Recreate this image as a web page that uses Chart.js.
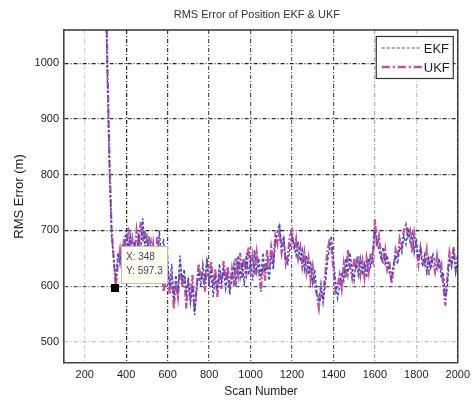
<!DOCTYPE html>
<html>
<head>
<meta charset="utf-8">
<script src="https://cdn.jsdelivr.net/npm/chart.js@4"></script>
<style>
html, body { margin: 0; padding: 0; background: #fff; }
</style>
</head>
<body>
<canvas id="rms-chart" width="475" height="401"></canvas>
<script>
var scans = [300,310,320,330,340,350,360,370,380,390,
    400,410,420,430,440,450,460,470,480,490,
    500,510,520,530,540,550,560,570,580,590,
    600,610,620,630,640,650,660,670,680,690,
    700,710,720,730,740,750,760,770,780,790,
    800,810,820,830,840,850,860,870,880,890,
    900,910,920,930,940,950,960,970,980,990,
    1000,1010,1020,1030,1040,1050,1060,1070,1080,1090,
    1100,1110,1120,1130,1140,1150,1160,1170,1180,1190,
    1200,1210,1220,1230,1240,1250,1260,1270,1280,1290,
    1300,1310,1320,1330,1340,1350,1360,1370,1380,1390,
    1400,1410,1420,1430,1440,1450,1460,1470,1480,1490,
    1500,1510,1520,1530,1540,1550,1560,1570,1580,1590,
    1600,1610,1620,1630,1640,1650,1660,1670,1680,1690,
    1700,1710,1720,1730,1740,1750,1760,1770,1780,1790,
    1800,1810,1820,1830,1840,1850,1860,1870,1880,1890,
    1900,1910,1920,1930,1940,1950,1960,1970,1980,1990,
    2000];
var ekf = [1150,960,800,690,645,610,660,640,675,650,
    700,665,690,650,680,640,695,660,722,670,
    690,655,680,640,670,620,700,650,685,630,
    650,600,640,575,620,590,655,610,630,590,
    615,570,600,548,590,625,600,640,610,650,
    600,630,580,615,595,640,610,630,595,620,
    585,615,640,600,655,615,640,600,660,620,
    645,610,665,625,650,615,660,625,640,610,
    655,630,680,700,712,670,690,650,640,665,
    690,675,655,680,645,665,630,655,620,645,
    605,630,590,575,605,570,600,640,665,690,
    650,610,578,600,625,610,650,620,660,630,
    610,645,620,650,625,640,615,650,635,660,
    700,680,665,650,670,640,655,625,615,640,
    655,640,670,660,690,675,705,680,695,660,
    685,650,665,635,655,625,650,630,660,640,
    630,650,615,625,580,600,650,635,660,625,
    645];
var ukf = [1200,990,820,700,650,598,640,665,630,690,
    660,705,655,685,660,700,670,715,680,700,
    660,690,645,675,630,690,660,640,590,610,
    630,585,620,560,605,580,640,600,620,560,
    605,580,620,555,600,640,610,625,590,640,
    615,645,600,630,580,625,595,645,610,635,
    600,630,600,650,620,660,615,650,625,670,
    630,655,620,660,630,590,640,610,665,630,
    670,645,690,675,700,660,680,640,655,690,
    700,665,685,650,670,635,660,625,650,610,
    635,600,585,560,590,580,620,660,680,670,
    630,590,600,620,595,640,615,665,635,615,
    650,630,655,620,645,615,650,625,660,645,
    720,670,690,655,640,665,630,645,605,630,
    665,650,685,670,700,710,690,700,660,695,
    670,640,670,650,640,665,620,655,640,625,
    655,630,640,600,565,620,660,640,670,630,
    655];
var xTicks = [200,400,600,800,1000,1200,1400,1600,1800,2000];
var yTicks = [500,600,700,800,900,1000];
var tipScan = 348;
var tipValue = 597.3;

// grid shades as they appear in the picture
var xGridShade = {200:'#d0d0d0',400:'#222222',600:'#3a3a3a',800:'#555555',1000:'#555555',
    1200:'#666666',1400:'#555555',1600:'#aaaaaa',1800:'#c4c4c4',2000:'#222222'};
var yGridShade = {500:'#c4c4c4',600:'#555555',700:'#222222',800:'#333333',900:'#333333',1000:'#222222'};

var textColor = '#1c1c30';

var extras = {
    id: 'extras',
    afterDatasetsDraw: function(chart) {
        var ctx = chart.ctx, a = chart.chartArea;
        var xs = chart.scales.x, ys = chart.scales.y;
        ctx.save();
        // frame
        ctx.strokeStyle = '#333';
        ctx.lineWidth = 1.3;
        ctx.beginPath();
        ctx.moveTo(a.left, a.top); ctx.lineTo(a.right, a.top); ctx.lineTo(a.right, a.bottom);
        ctx.stroke();
        // data tip
        var px = xs.getPixelForValue(tipScan), py = ys.getPixelForValue(tipValue);
        ctx.fillStyle = '#000';
        ctx.fillRect(Math.round(px) - 4, Math.round(py) - 4, 8, 8);
        var bx = Math.round(px) + 6, by = Math.round(py) - 42;
        ctx.fillStyle = '#fffdf0';
        ctx.strokeStyle = '#bdbdbd';
        ctx.lineWidth = 1;
        ctx.fillRect(bx, by, 46, 37);
        ctx.strokeRect(bx + 0.5, by + 0.5, 46, 37);
        ctx.fillStyle = '#444466';
        ctx.font = '10px "Liberation Sans", Arial, sans-serif';
        ctx.textBaseline = 'middle';
        ctx.textAlign = 'left';
        ctx.fillText('X: ' + tipScan, bx + 5, by + 11);
        ctx.fillText('Y: ' + tipValue, bx + 5, by + 25);
        // legend
        var lw = 77, lh = 42, lx = a.right - 5 - lw, ly = a.top + 6;
        ctx.fillStyle = '#fff';
        ctx.fillRect(lx, ly, lw, lh);
        ctx.strokeStyle = '#333';
        ctx.lineWidth = 1.2;
        ctx.strokeRect(lx + 0.5, ly + 0.5, lw, lh);
        var entries = [
            {text: 'EKF', color: '#3b4bb4', width: 1, dash: [3, 2]},
            {text: 'UKF', color: '#c0509f', width: 2.5, dash: [8, 3, 2, 3]}
        ];
        ctx.font = '13px "Liberation Sans", Arial, sans-serif';
        entries.forEach(function(e, i) {
            var yy = ly + 12 + i * 19;
            ctx.strokeStyle = e.color;
            ctx.lineWidth = e.width;
            ctx.setLineDash(e.dash);
            ctx.beginPath();
            ctx.moveTo(lx + 6, yy); ctx.lineTo(lx + 46, yy);
            ctx.stroke();
            ctx.setLineDash([]);
            ctx.fillStyle = textColor;
            ctx.fillText(e.text, lx + 48, yy + 1);
        });
        ctx.restore();
    },
    afterDraw: function(chart) {
        var ctx = chart.ctx, a = chart.chartArea;
        ctx.save();
        ctx.fillStyle = '#333';
        ctx.font = '11px "Liberation Sans", Arial, sans-serif';
        ctx.textAlign = 'center';
        ctx.textBaseline = 'middle';
        ctx.fillText('RMS Error of Position EKF & UKF', (a.left + a.right) / 2 - 4, 15);
        ctx.restore();
    }
};

new Chart(document.getElementById('rms-chart'), {
    type: 'line',
    data: {
        datasets: [{
            label: 'EKF',
            data: scans.map(function(s, i) { return {x: s, y: ekf[i]}; }),
            borderColor: '#3b4bb4',
            borderWidth: 1.4,
            borderDash: [3, 2],
            pointRadius: 0,
            tension: 0
        }, {
            label: 'UKF',
            data: scans.map(function(s, i) { return {x: s, y: ukf[i]}; }),
            borderColor: '#c0509f',
            borderWidth: 2.2,
            borderDash: [7, 2, 2, 2],
            pointRadius: 0,
            tension: 0
        }]
    },
    options: {
        responsive: false,
        animation: false,
        layout: {padding: {top: 30, right: 14, left: 0, bottom: 0}},
        plugins: {
            legend: {display: false},
            title: {display: false},
            tooltip: {enabled: false}
        },
        scales: {
            x: {
                type: 'linear',
                min: 100,
                max: 2000,
                afterBuildTicks: function(s) { s.ticks = xTicks.map(function(v) { return {value: v}; }); },
                afterFit: function(s) { s.height = 38; },
                grid: {
                    color: function(c) { return c.tick ? (xGridShade[c.tick.value] || '#888') : '#888'; },
                    lineWidth: 1.2,
                    drawTicks: false
                },
                border: {display: true, color: '#444', width: 1.6, dash: [4, 2, 1, 2]},
                ticks: {
                    color: textColor,
                    font: {family: '"Liberation Sans", Arial, sans-serif', size: 11},
                    padding: 5,
                    maxRotation: 0,
                    autoSkip: false,
                    callback: function(v) { return String(v); }
                },
                title: {
                    display: true,
                    text: 'Scan Number',
                    color: textColor,
                    font: {family: '"Liberation Sans", Arial, sans-serif', size: 12},
                    padding: {top: 0, bottom: 2}
                }
            },
            y: {
                min: 462,
                max: 1060,
                afterBuildTicks: function(s) { s.ticks = yTicks.map(function(v) { return {value: v}; }); },
                afterFit: function(s) { s.width = 64; },
                grid: {
                    color: function(c) { return c.tick ? (yGridShade[c.tick.value] || '#888') : '#888'; },
                    lineWidth: 1.2,
                    drawTicks: false
                },
                border: {display: true, color: '#444', width: 1.6, dash: [4, 2, 1, 2]},
                ticks: {
                    color: textColor,
                    font: {family: '"Liberation Sans", Arial, sans-serif', size: 11},
                    padding: 5,
                    callback: function(v) { return String(v); }
                },
                title: {
                    display: true,
                    text: 'RMS Error (m)',
                    color: textColor,
                    font: {family: '"Liberation Sans", Arial, sans-serif', size: 13},
                    padding: {top: 12, bottom: 0}
                }
            }
        }
    },
    plugins: [extras]
});
</script>
</body>
</html>
